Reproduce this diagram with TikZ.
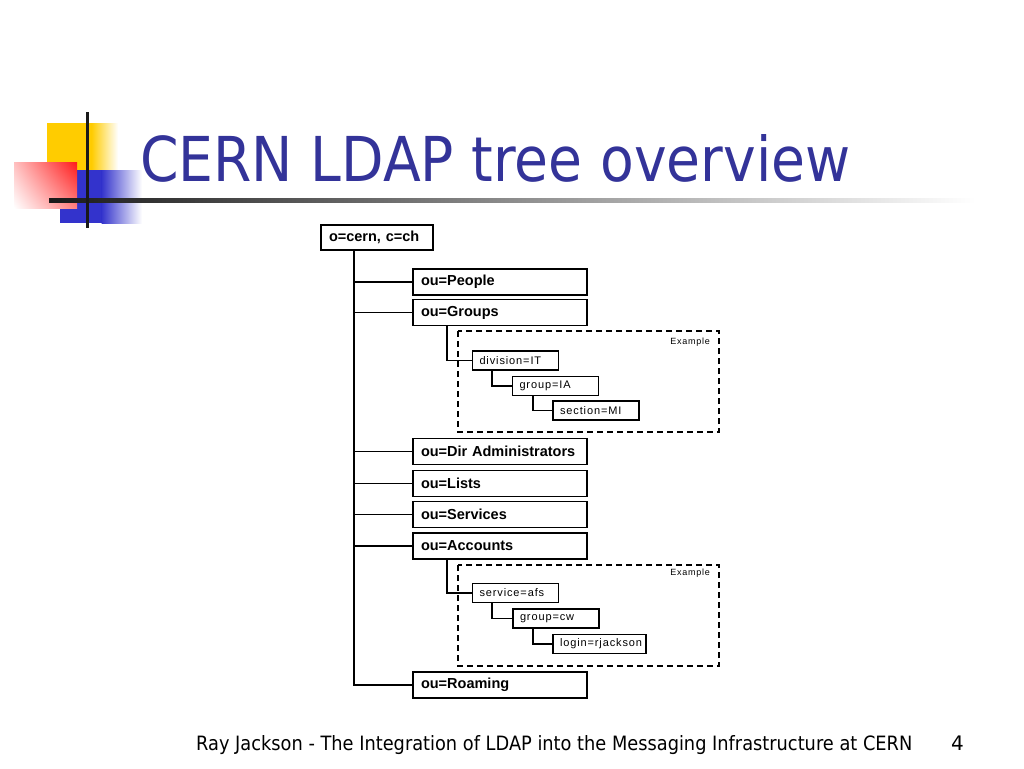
\documentclass[tikz,border=0pt]{standalone}
\usepackage{fontspec}
\usetikzlibrary{shadings}
\setmainfont{Liberation Sans}
\newfontfamily\titlef{DejaVu Sans}
\newfontfamily\smallf[LetterSpace=8]{Liberation Sans}
\definecolor{titleblue}{HTML}{333399}
\definecolor{logoyellow}{HTML}{FFCC00}
\definecolor{logored}{HTML}{FF1A1A}
\definecolor{logoblue}{HTML}{3333CC}
\tikzset{
  mainbox/.style={draw, line width=1.5pt, text width=158pt, inner xsep=8pt, inner ysep=0pt,
    minimum height=26pt, align=left, font=\fontsize{14.5}{16}\selectfont\bfseries},
  rootbox/.style={mainbox, text width=96pt, minimum height=25pt},
  smallbox/.style={draw, line width=1.2pt, text width=72pt, inner xsep=7pt, inner ysep=0pt,
    minimum height=19pt, align=left, font=\smallf\fontsize{11}{12}\selectfont},
  wire/.style={line width=1.5pt},
  thinwire/.style={line width=1.2pt},
  dashbox/.style={draw, line width=1.4pt, dash pattern=on 6pt off 4pt},
  exlabel/.style={anchor=east, inner sep=0pt, font=\smallf\fontsize{9}{10}\selectfont}
}
\begin{document}
\begin{tikzpicture}[x=1pt, y=-1pt]
\useasboundingbox (0,0) rectangle (1024,768);
\fill[white] (0,0) rectangle (1024,768);

% logo decoration
\fill[logoyellow] (47,123) rectangle (92,170);
\shade[left color=logoyellow, right color=white] (91.5,123) rectangle (118,170);
\fill[logoblue] (60,170) rectangle (102,223);
\shade[left color=logoblue, right color=white] (101.5,170) rectangle (142,223);
\shade[upper left=red!25, upper right=logored, lower left=white, lower right=red!50] (14,162) rectangle (77,208);
\shade[left color=black!90, right color=white] (49,198) rectangle (975,202);
\fill[black!90] (85.5,112) rectangle (88.5,228);

% title
\node[anchor=base west, inner sep=0pt, text=titleblue] (title) at (140,181)
  {\resizebox{710pt}{47pt}{\titlef CERN LDAP tree overview}};

% tree
\node[rootbox] (root) at (377,237.5) {o=cern, c=ch};
\node[mainbox] (people)   at (500,282)   {ou=People};
\node[mainbox] (groups)   at (500,312.5) {ou=Groups};
\node[mainbox] (diradm)   at (500,451.5) {ou=Dir Administrators};
\node[mainbox] (lists)    at (500,483.5) {ou=Lists};
\node[mainbox] (services) at (500,514.5) {ou=Services};
\node[mainbox] (accounts) at (500,546)   {ou=Accounts};
\node[mainbox] (roaming)  at (500,685)   {ou=Roaming};

\coordinate (trunk) at (354,0);
\draw[wire] (root.south -| trunk) -- (roaming.west -| trunk) -- (roaming.west);
\foreach \n in {people,groups,diradm,lists,services,accounts}
  \draw[wire] (\n.west -| trunk) -- (\n.west);

% example 1
\draw[dashbox] (458,331) rectangle (719,432);
\node[exlabel] (ex1) at (710,342) {Example};
\node[smallbox] (division) at (515.5,360.5) {division=IT};
\node[smallbox] (groupia)  at (555.5,386)   {group=IA};
\node[smallbox] (section)  at (596,410.5)   {section=MI};
\coordinate (c1) at (447,0);
\coordinate (c2) at (492,0);
\coordinate (c3) at (533,0);
\draw[thinwire] (groups.south -| c1) |- (division.west);
\draw[thinwire] (division.south -| c2) |- (groupia.west);
\draw[thinwire] (groupia.south -| c3) |- (section.west);

% example 2
\draw[dashbox] (458,565) rectangle (719,666);
\node[exlabel] (ex2) at (710,573) {Example};
\node[smallbox] (service) at (515.5,593)   {service=afs};
\node[smallbox] (groupcw) at (556,618.5)   {group=cw};
\node[smallbox, text width=79pt] (login) at (599.5,644) {login=rjackson};
\draw[thinwire] (accounts.south -| c1) |- (service.west);
\draw[thinwire] (service.south -| c2) |- (groupcw.west);
\draw[thinwire] (groupcw.south -| c3) |- (login.west);

% footer
\node[anchor=base west, inner sep=0pt] (footer) at (196,750)
  {\resizebox{716pt}{15pt}{\titlef Ray Jackson - The Integration of LDAP into the Messaging Infrastructure at CERN}};
\node[anchor=base west, inner sep=0pt, font=\titlef\fontsize{20}{22}\selectfont] (pageno) at (951,750) {4};
\end{tikzpicture}
\end{document}
